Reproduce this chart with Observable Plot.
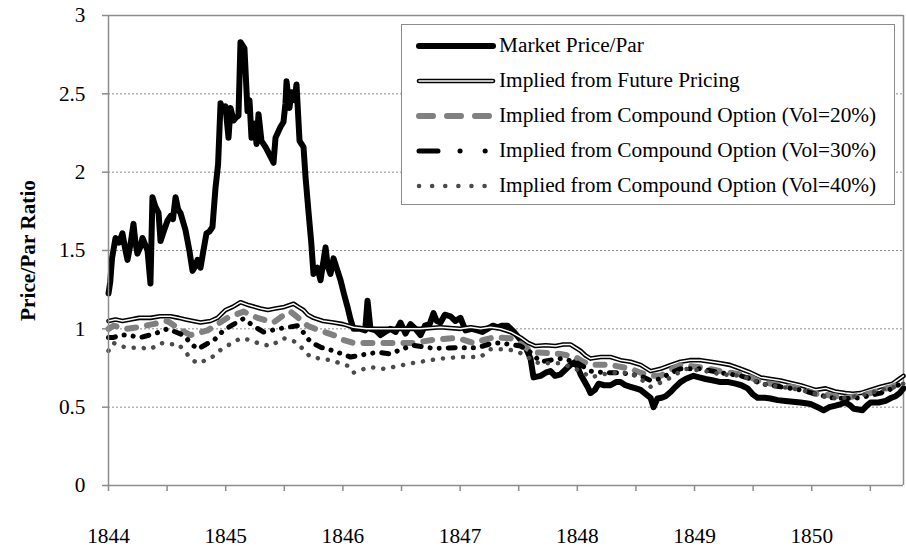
<!DOCTYPE html>
<html>
<head>
<meta charset="utf-8">
<script src="https://cdn.jsdelivr.net/npm/d3@7"></script>
<script src="https://cdn.jsdelivr.net/npm/@observablehq/plot@0.6"></script>
<style>
  body { margin: 0; background: #fff; }
  #wrap { position: relative; width: 906px; height: 549px; font-family: "Liberation Serif", "Times New Roman", serif; }
  #legend { position: absolute; left: 401px; top: 24px; width: 494px; height: 181px; box-sizing: border-box;
            border: 1.5px solid #8c8c8c; background: #fff; }
  .row { position: absolute; left: 0; height: 34px; display: flex; align-items: center; font-size: 21.3px; color: #000; white-space: nowrap; }
  .row svg { margin-left: 14px; margin-right: 3px; }
</style>
</head>
<body>
<div id="wrap"></div>
<script>
// ---- data: [decimal year, price/par ratio] ----
const market = [
  [1844.000,1.225],[1844.015,1.30],[1844.030,1.45],[1844.060,1.58],[1844.090,1.55],[1844.119,1.61],[1844.140,1.52],[1844.162,1.44],
  [1844.190,1.55],[1844.213,1.67],[1844.230,1.55],[1844.247,1.48],[1844.270,1.52],[1844.290,1.58],[1844.333,1.50],[1844.358,1.29],
  [1844.375,1.84],[1844.400,1.78],[1844.427,1.74],[1844.444,1.56],[1844.470,1.62],[1844.503,1.69],[1844.530,1.72],[1844.550,1.70],
  [1844.572,1.84],[1844.595,1.76],[1844.614,1.74],[1844.657,1.63],[1844.690,1.50],[1844.717,1.37],[1844.740,1.40],[1844.759,1.44],
  [1844.785,1.39],[1844.810,1.50],[1844.836,1.61],[1844.860,1.62],[1844.887,1.65],[1844.913,1.90],[1844.935,2.05],[1844.956,2.44],
  [1844.975,2.40],[1844.998,2.42],[1845.024,2.22],[1845.041,2.41],[1845.067,2.33],[1845.090,2.35],[1845.109,2.36],[1845.126,2.83],
  [1845.160,2.79],[1845.186,2.39],[1845.203,2.46],[1845.220,2.22],[1845.246,2.31],[1845.263,2.18],[1845.280,2.37],[1845.305,2.20],
  [1845.340,2.16],[1845.382,2.10],[1845.408,2.06],[1845.425,2.22],[1845.468,2.29],[1845.493,2.32],[1845.510,2.44],[1845.519,2.58],
  [1845.544,2.41],[1845.561,2.51],[1845.587,2.46],[1845.604,2.56],[1845.630,2.20],[1845.664,2.16],[1845.681,1.97],[1845.706,1.75],
  [1845.730,1.55],[1845.749,1.35],[1845.783,1.39],[1845.809,1.31],[1845.852,1.52],[1845.870,1.40],[1845.894,1.35],[1845.920,1.45],
  [1845.950,1.38],[1845.980,1.31],[1846.010,1.22],[1846.039,1.14],[1846.065,1.06],[1846.090,1.00],[1846.150,1.00],[1846.190,0.99],
  [1846.210,1.18],[1846.235,1.00],[1846.280,0.99],[1846.321,0.96],[1846.360,0.98],[1846.406,1.00],[1846.450,0.98],[1846.491,1.04],
  [1846.534,0.97],[1846.577,1.03],[1846.620,1.00],[1846.662,0.96],[1846.700,1.02],[1846.740,1.03],[1846.773,1.10],[1846.800,1.05],
  [1846.833,1.04],[1846.870,1.09],[1846.918,1.08],[1846.960,1.05],[1847.003,1.07],[1847.046,0.99],[1847.100,1.00],[1847.148,0.99],
  [1847.190,0.98],[1847.234,1.00],[1847.280,1.02],[1847.319,1.01],[1847.360,1.02],[1847.404,1.02],[1847.460,0.98],[1847.515,0.93],
  [1847.560,0.88],[1847.601,0.81],[1847.626,0.69],[1847.686,0.70],[1847.730,0.72],[1847.771,0.73],[1847.810,0.70],[1847.857,0.71],
  [1847.900,0.74],[1847.942,0.77],[1847.985,0.79],[1848.027,0.71],[1848.087,0.63],[1848.113,0.59],[1848.150,0.61],[1848.181,0.65],
  [1848.230,0.64],[1848.283,0.64],[1848.330,0.66],[1848.369,0.66],[1848.410,0.64],[1848.454,0.63],[1848.500,0.62],[1848.539,0.61],
  [1848.590,0.58],[1848.625,0.56],[1848.650,0.50],[1848.684,0.555],[1848.720,0.56],[1848.753,0.57],[1848.800,0.60],[1848.838,0.63],
  [1848.880,0.66],[1848.923,0.68],[1848.991,0.70],[1849.040,0.69],[1849.094,0.68],[1849.160,0.67],[1849.222,0.66],[1849.290,0.66],
  [1849.350,0.65],[1849.400,0.64],[1849.452,0.62],[1849.500,0.58],[1849.538,0.56],[1849.600,0.56],[1849.648,0.555],[1849.710,0.545],
  [1849.776,0.54],[1849.840,0.535],[1849.904,0.53],[1849.950,0.525],[1849.990,0.52],[1850.050,0.50],[1850.101,0.48],[1850.150,0.50],
  [1850.203,0.51],[1850.250,0.52],[1850.288,0.53],[1850.330,0.51],[1850.357,0.49],[1850.400,0.485],[1850.433,0.48],[1850.470,0.51],
  [1850.502,0.53],[1850.570,0.53],[1850.630,0.54],[1850.680,0.56],[1850.715,0.57],[1850.750,0.59],[1850.783,0.62]
];
const futurePricing = [
  [1844.000,1.05],[1844.060,1.06],[1844.120,1.05],[1844.188,1.06],[1844.260,1.07],[1844.358,1.07],[1844.440,1.08],[1844.529,1.08],
  [1844.600,1.07],[1844.657,1.06],[1844.720,1.05],[1844.785,1.04],[1844.870,1.05],[1844.930,1.07],[1844.998,1.12],[1845.060,1.14],
  [1845.126,1.17],[1845.200,1.15],[1845.297,1.13],[1845.360,1.12],[1845.425,1.13],[1845.500,1.14],[1845.579,1.16],[1845.620,1.14],
  [1845.664,1.12],[1845.700,1.09],[1845.749,1.07],[1845.830,1.05],[1845.920,1.04],[1846.000,1.03],[1846.090,1.01],[1846.200,1.00],
  [1846.321,1.00],[1846.500,1.00],[1846.662,1.00],[1846.830,1.01],[1847.003,1.00],[1847.090,1.01],[1847.174,1.00],[1847.260,1.01],
  [1847.345,1.00],[1847.430,0.98],[1847.515,0.945],[1847.580,0.91],[1847.643,0.89],[1847.730,0.895],[1847.814,0.89],[1847.880,0.90],
  [1847.942,0.90],[1848.027,0.86],[1848.070,0.83],[1848.113,0.81],[1848.200,0.82],[1848.283,0.82],[1848.370,0.80],[1848.454,0.79],
  [1848.540,0.77],[1848.625,0.73],[1848.710,0.745],[1848.800,0.77],[1848.881,0.79],[1848.960,0.80],[1849.051,0.80],[1849.140,0.79],
  [1849.222,0.78],[1849.300,0.77],[1849.392,0.745],[1849.480,0.72],[1849.563,0.69],[1849.650,0.68],[1849.734,0.67],[1849.820,0.655],
  [1849.904,0.64],[1849.970,0.625],[1850.032,0.61],[1850.118,0.62],[1850.200,0.60],[1850.288,0.59],[1850.350,0.585],[1850.416,0.59],
  [1850.500,0.61],[1850.587,0.63],[1850.690,0.65],[1850.783,0.70]
];
const vol20 = [
  [1844.000,1.00],[1844.043,1.02],[1844.150,1.00],[1844.247,1.01],[1844.380,1.03],[1844.503,1.05],[1844.600,1.00],[1844.700,0.96],
  [1844.845,0.99],[1844.930,1.03],[1845.015,1.07],[1845.080,1.09],[1845.152,1.11],[1845.271,1.07],[1845.408,1.04],[1845.480,1.08],
  [1845.553,1.11],[1845.620,1.07],[1845.698,1.02],[1845.800,0.99],[1845.920,0.96],[1846.000,0.93],[1846.090,0.91],[1846.261,0.91],
  [1846.432,0.91],[1846.602,0.91],[1846.773,0.93],[1846.944,0.94],[1847.030,0.93],[1847.114,0.91],[1847.200,0.93],[1847.285,0.945],
  [1847.430,0.94],[1847.515,0.905],[1847.580,0.87],[1847.643,0.85],[1847.750,0.845],[1847.857,0.84],[1847.985,0.82],[1848.050,0.79],
  [1848.113,0.77],[1848.283,0.77],[1848.454,0.745],[1848.540,0.72],[1848.625,0.70],[1848.710,0.70],[1848.800,0.74],[1848.881,0.77],
  [1849.051,0.755],[1849.222,0.73],[1849.392,0.71],[1849.480,0.69],[1849.563,0.66],[1849.734,0.64],[1849.904,0.62],[1850.032,0.585],
  [1850.160,0.575],[1850.288,0.56],[1850.416,0.575],[1850.500,0.59],[1850.587,0.61],[1850.690,0.63],[1850.783,0.67]
];
const vol30 = [
  [1844.000,0.945],[1844.043,0.945],[1844.100,0.96],[1844.162,0.96],[1844.273,0.945],[1844.400,0.97],[1844.503,1.00],[1844.640,0.96],
  [1844.700,0.91],[1844.759,0.87],[1844.830,0.90],[1844.896,0.925],[1844.981,0.99],[1845.070,1.03],[1845.152,1.065],[1845.254,1.01],
  [1845.323,0.98],[1845.451,1.00],[1845.530,1.01],[1845.613,1.02],[1845.670,0.97],[1845.724,0.915],[1845.820,0.88],[1845.920,0.86],
  [1846.065,0.82],[1846.210,0.84],[1846.300,0.85],[1846.406,0.84],[1846.500,0.87],[1846.602,0.895],[1846.773,0.875],[1846.978,0.88],
  [1847.148,0.88],[1847.285,0.91],[1847.345,0.91],[1847.430,0.90],[1847.515,0.89],[1847.601,0.85],[1847.686,0.79],[1847.770,0.80],
  [1847.857,0.81],[1847.985,0.79],[1848.050,0.76],[1848.113,0.73],[1848.241,0.72],[1848.369,0.72],[1848.450,0.71],[1848.539,0.70],
  [1848.625,0.67],[1848.710,0.68],[1848.800,0.72],[1848.881,0.745],[1849.051,0.745],[1849.222,0.72],[1849.392,0.70],[1849.480,0.68],
  [1849.563,0.65],[1849.734,0.63],[1849.904,0.61],[1850.032,0.585],[1850.160,0.56],[1850.288,0.555],[1850.416,0.56],[1850.500,0.575],
  [1850.587,0.59],[1850.690,0.62],[1850.783,0.66]
];
const vol40 = [
  [1844.000,0.86],[1844.043,0.91],[1844.100,0.89],[1844.162,0.88],[1844.273,0.88],[1844.358,0.87],[1844.444,0.91],[1844.520,0.90],
  [1844.589,0.905],[1844.650,0.86],[1844.700,0.81],[1844.759,0.78],[1844.870,0.81],[1844.930,0.85],[1844.981,0.88],[1845.060,0.91],
  [1845.126,0.94],[1845.200,0.93],[1845.271,0.91],[1845.382,0.89],[1845.493,0.94],[1845.550,0.93],[1845.613,0.91],[1845.670,0.86],
  [1845.724,0.82],[1845.810,0.81],[1845.894,0.80],[1846.039,0.765],[1846.090,0.72],[1846.160,0.74],[1846.235,0.755],[1846.346,0.745],
  [1846.491,0.765],[1846.580,0.78],[1846.662,0.79],[1846.750,0.80],[1846.833,0.81],[1846.920,0.815],[1847.003,0.82],[1847.090,0.82],
  [1847.174,0.82],[1847.259,0.87],[1847.387,0.87],[1847.473,0.86],[1847.558,0.83],[1847.643,0.785],[1847.771,0.78],[1847.857,0.78],
  [1847.985,0.745],[1848.050,0.72],[1848.113,0.69],[1848.283,0.72],[1848.454,0.72],[1848.540,0.68],[1848.625,0.63],[1848.753,0.67],
  [1848.840,0.71],[1848.923,0.745],[1849.094,0.73],[1849.222,0.71],[1849.392,0.70],[1849.480,0.68],[1849.563,0.65],[1849.734,0.63],
  [1849.904,0.61],[1850.032,0.585],[1850.160,0.555],[1850.288,0.56],[1850.416,0.575],[1850.500,0.59],[1850.587,0.61],[1850.690,0.625],
  [1850.783,0.65]
];
const seriesNames = [
  "Market Price/Par",
  "Implied from Future Pricing",
  "Implied from Compound Option (Vol=20%)",
  "Implied from Compound Option (Vol=30%)",
  "Implied from Compound Option (Vol=40%)"
];
const yTicks = [0, 0.5, 1, 1.5, 2, 2.5, 3];
const yearLabels = [1844, 1845, 1846, 1847, 1848, 1849, 1850];
const halfYearTicks = [1844, 1844.5, 1845, 1845.5, 1846, 1846.5, 1847, 1847.5, 1848, 1848.5, 1849, 1849.5, 1850, 1850.5];
const yLabel = "Price/Par Ratio";

// ---- styles (chart line / legend swatch) ----
const axisGray = "#8c8c8c";
const styles = [
  [{stroke: "#000", strokeWidth: 6}],
  [{stroke: "#000", strokeWidth: 4.6}, {stroke: "#fff", strokeWidth: 1.5}],
  [{stroke: "#808080", strokeWidth: 6, strokeDasharray: "9,11", legendDash: "14,14"}],
  [{stroke: "#000", strokeWidth: 5, strokeDasharray: "7,9,0.1,9,0.1,9", legendDash: "19,22,0.1,25,0.1,22"}],
  [{stroke: "#4a4a4a", strokeWidth: 4.5, strokeDasharray: "0.1,10", legendDash: "0.1,13"}]
];
const seriesData = [market, futurePricing, vol20, vol30, vol40];
const xDomain = [1844, d3.max(seriesData.flat(), d => d[0])];

const lineMarks = seriesData.flatMap((data, i) =>
  styles[i].map(s => Plot.line(data, {
    x: d => d[0], y: d => d[1], strokeLinecap: "round", strokeLinejoin: "round",
    stroke: s.stroke, strokeWidth: s.strokeWidth, strokeDasharray: s.strokeDasharray
  }))
);

const chart = Plot.plot({
  width: 906,
  height: 549,
  marginLeft: 108,
  marginRight: 3,
  marginTop: 15,
  marginBottom: 64,
  style: {fontFamily: '"Liberation Serif", "Times New Roman", serif', fontSize: "21.3px", background: "#fff", color: "#000"},
  x: {domain: xDomain},
  y: {domain: [0, 3]},
  marks: [
    Plot.ruleY(yTicks.filter(d => d > 0 && d < 3), {stroke: axisGray, strokeWidth: 1, strokeDasharray: "2,2"}),
    Plot.ruleY([3], {stroke: axisGray, strokeWidth: 1.5}),
    Plot.ruleX([xDomain[1]], {stroke: axisGray, strokeWidth: 1.5}),
    ...lineMarks,
    Plot.ruleX([xDomain[0]], {stroke: axisGray, strokeWidth: 1.5}),
    Plot.ruleY([0], {stroke: axisGray, strokeWidth: 1.5}),
    Plot.axisY({ticks: yTicks, tickSize: 6, tickPadding: 17, tickFormat: d => String(d), stroke: axisGray, strokeWidth: 1.5, label: null}),
    Plot.axisX({ticks: halfYearTicks, tickSize: 6, tickFormat: () => "", stroke: axisGray, strokeWidth: 1.5, label: null}),
    Plot.axisX({ticks: yearLabels, tickSize: 0, tickPadding: 42, tickFormat: d => String(d), label: null}),
    Plot.text([yLabel], {frameAnchor: "left", textAnchor: "middle", rotate: -90, dx: -80, fontWeight: "bold"})
  ]
});

const wrap = document.getElementById("wrap");
wrap.appendChild(chart);

// ---- legend ----
const legend = d3.select(wrap).append("div").attr("id", "legend");
seriesNames.forEach((name, i) => {
  const row = legend.append("div").attr("class", "row").style("top", (3.5 + i * 35) + "px");
  const svg = row.append("svg").attr("width", 80).attr("height", 14);
  styles[i].forEach(s => {
    svg.append("line").attr("x1", 3).attr("x2", 77).attr("y1", 7).attr("y2", 7)
      .attr("stroke", s.stroke).attr("stroke-width", s.strokeWidth)
      .attr("stroke-dasharray", s.legendDash || null)
      .attr("stroke-linecap", "round");
  });
  row.append("span").text(name);
});
</script>
</body>
</html>
